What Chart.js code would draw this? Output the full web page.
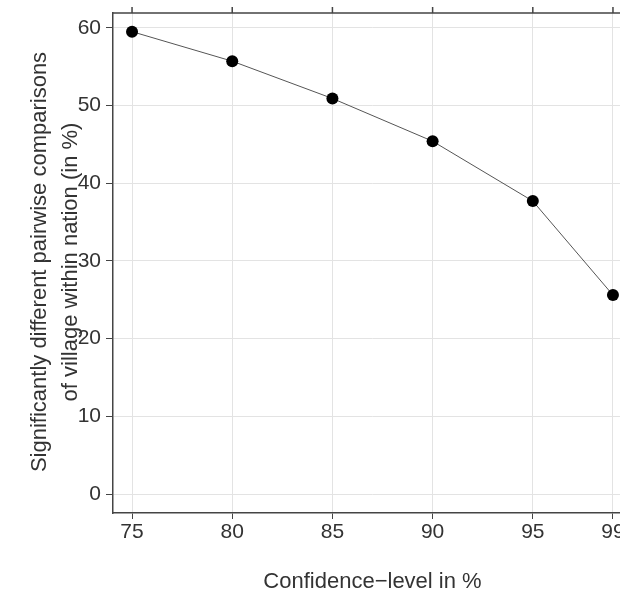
<!DOCTYPE html>
<html>
<head>
<meta charset="utf-8">
<script src="https://cdn.jsdelivr.net/npm/chart.js@4"></script>
<style>
  html, body { margin: 0; padding: 0; background: #fff; overflow: hidden; }
  #wrap { width: 640px; height: 605px; position: relative; }
</style>
</head>
<body>
<div id="wrap"><canvas id="c" width="640" height="605"></canvas></div>
<script>
// confidence levels and share of significant pairwise comparisons
const confLevels = [75, 80, 85, 90, 95, 99];
const sigShare = [59.5, 55.7, 50.9, 45.4, 37.7, 25.6];
const yTickValues = [0, 10, 20, 30, 40, 50, 60];
const xTitle = 'Confidence\u2212level in %';
const yTitleLines = ['Significantly different pairwise comparisons', 'of village within nation (in %)'];

const axisCol = '#444';
const gridCol = '#e3e3e3';
const textCol = '#333';
const font = 'Liberation Sans, Arial, sans-serif';

// top border with upward ticks + y title drawn over tick area like the original
const framePlugin = {
    id: 'frame',
    afterDraw(chart) {
        const ctx = chart.ctx, a = chart.chartArea, xs = chart.scales.x;
        ctx.save();
        ctx.strokeStyle = axisCol;
        ctx.lineWidth = 1.5;
        ctx.beginPath();
        ctx.moveTo(a.left, a.top);
        ctx.lineTo(a.right, a.top);
        confLevels.forEach(v => {
            const px = xs.getPixelForValue(v);
            ctx.moveTo(px, a.top);
            ctx.lineTo(px, a.top - 6);
        });
        ctx.stroke();

        ctx.fillStyle = textCol;
        ctx.font = '22px ' + font;
        ctx.textAlign = 'center';
        ctx.textBaseline = 'middle';
        const cy = 262;
        [40, 71].forEach((x, i) => {
            ctx.save();
            ctx.translate(x, cy);
            ctx.rotate(-Math.PI / 2);
            ctx.fillText(yTitleLines[i], 0, 0);
            ctx.restore();
        });
        ctx.restore();
    }
};

new Chart(document.getElementById('c'), {
    type: 'line',
    data: {
        datasets: [{
            data: confLevels.map((v, i) => ({ x: v, y: sigShare[i] })),
            borderColor: '#555',
            borderWidth: 1,
            pointBackgroundColor: '#000',
            pointBorderColor: '#000',
            pointRadius: 6,
            pointBorderWidth: 0,
            tension: 0
        }]
    },
    options: {
        responsive: false,
        animation: false,
        layout: { padding: { top: 13, right: 8, left: 0, bottom: 0 } },
        plugins: { legend: { display: false }, tooltip: { enabled: false } },
        scales: {
            x: {
                type: 'linear',
                min: 74.05,
                max: 99.95,
                afterBuildTicks: s => { s.ticks = confLevels.map(v => ({ value: v })); },
                afterFit: s => { s.height = 92; s.paddingLeft = 0; s.paddingRight = 0; },
                grid: { color: gridCol, tickColor: axisCol, tickLength: 6, lineWidth: 1 },
                border: { color: axisCol, width: 1.5 },
                ticks: { color: textCol, font: { family: font, size: 21 }, padding: 1, maxRotation: 0 },
                title: { display: true, text: xTitle, color: textCol, font: { family: font, size: 22 }, padding: { top: 0, bottom: 10 } }
            },
            y: {
                min: -2.44,
                max: 61.9,
                afterBuildTicks: s => { s.ticks = yTickValues.map(v => ({ value: v })); },
                afterFit: s => { s.width = 113; s.paddingTop = 0; s.paddingBottom = 0; },
                grid: { color: gridCol, tickColor: axisCol, tickLength: 7, lineWidth: 1 },
                border: { color: axisCol, width: 1.5 },
                ticks: { color: textCol, font: { family: font, size: 21 }, padding: 5 }
            }
        }
    },
    plugins: [framePlugin]
});
</script>
</body>
</html>
